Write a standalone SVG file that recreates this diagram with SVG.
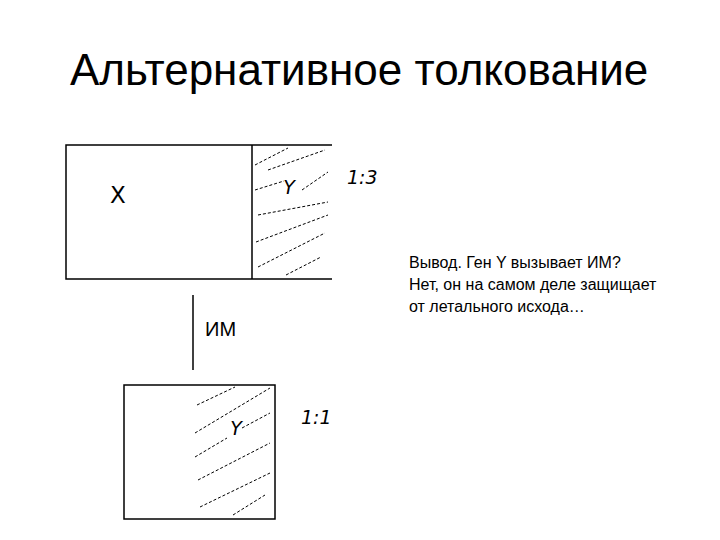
<svg xmlns="http://www.w3.org/2000/svg" width="720" height="540" viewBox="0 0 720 540">
<style>
.box{fill:none;stroke:#000;stroke-width:1.5}
.h{stroke:#000;stroke-width:1;stroke-dasharray:3 2;fill:none}
.lbl{font-family:"DejaVu Sans",Verdana,sans-serif;font-size:23px;fill:#000}
.it{font-family:"DejaVu Sans",Verdana,sans-serif;font-size:19px;font-style:italic;fill:#000}
.t{font-family:"Liberation Sans",Arial,sans-serif;fill:#000}
</style>
<rect width="720" height="540" fill="#fff"/>
<text class="t" x="70" y="85" font-size="44">Альтернативное толкование</text>
<g id="top">
<path class="box" d="M332,145 H66 V279 H332 M252,145 V279"/>
<g class="h">
<path d="M255,165 L288,148"/>
<path d="M268,170 L325,150"/>
<path d="M255,190 L284,181"/>
<path d="M302,190 L328,172"/>
<path d="M258,215 L328,202"/>
<path d="M256,242 L328,215"/>
<path d="M258,267 L325,233"/>
<path d="M286,275 L321,257"/>
</g>
<text class="lbl" x="118" y="203" text-anchor="middle">X</text>
<text class="it" x="289" y="194" text-anchor="middle" font-size="21">Y</text>
<text class="it" x="347" y="184">1:3</text>
</g>
<g id="connectors">
<line x1="193" y1="295" x2="193" y2="370" stroke="#000" stroke-width="1.5"/>
<text class="t" x="205" y="336" font-size="20">ИМ</text>
</g>
<g id="bottom">
<rect class="box" x="124" y="385" width="151" height="134"/>
<g class="h">
<path d="M197,405 L235,387"/>
<path d="M195,433 L270,388"/>
<path d="M242,428 L270,413"/>
<path d="M195,457 L227,438"/>
<path d="M198,480 L270,443"/>
<path d="M200,507 L270,473"/>
<path d="M233,515 L265,495"/>
</g>
<text class="it" x="236" y="435" text-anchor="middle" font-size="21">Y</text>
<text class="it" x="301" y="424">1:1</text>
</g>
<g id="note" class="t" font-size="16">
<text x="409" y="268">Вывод. Ген Y вызывает ИМ?</text>
<text x="409" y="290">Нет, он на самом деле защищает</text>
<text x="409" y="312">от летального исхода…</text>
</g>
</svg>
